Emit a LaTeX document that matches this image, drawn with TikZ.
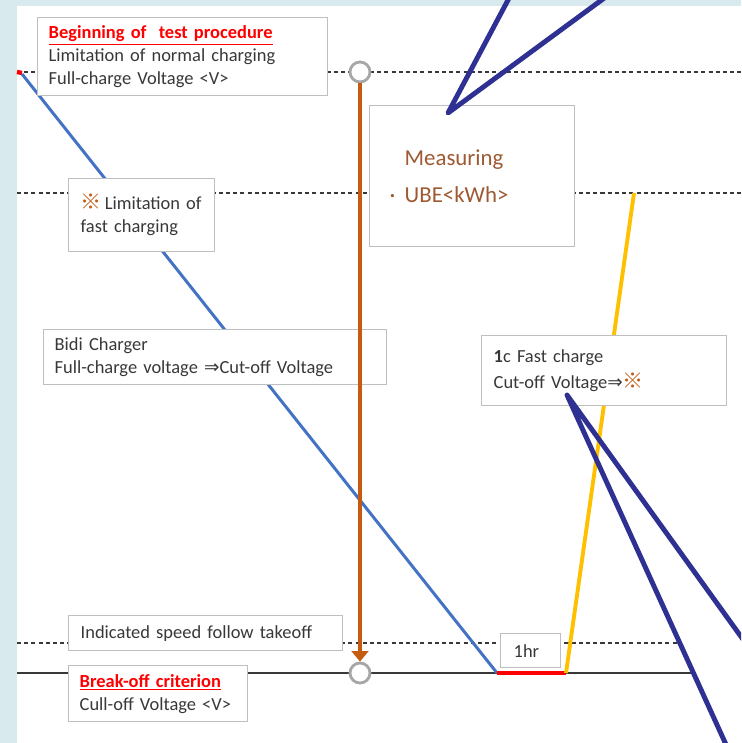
\documentclass[tikz,border=0pt]{standalone}
\usepackage{fontspec}
\setmainfont{Carlito}
\newfontfamily\symfont{DejaVu Sans}
\newfontfamily\cjkfont{Noto Sans CJK JP}
\usetikzlibrary{arrows.meta}

\definecolor{bandblue}{RGB}{216,234,238}
\definecolor{boxgray}{RGB}{191,191,191}
\definecolor{textgray}{RGB}{56,56,56}
\definecolor{lineblue}{RGB}{68,114,196}
\definecolor{lineorange}{RGB}{197,90,17}
\definecolor{lineyellow}{RGB}{255,192,0}
\definecolor{calloutnavy}{RGB}{46,49,146}
\definecolor{measbrown}{RGB}{158,90,50}
\definecolor{ringgray}{RGB}{166,166,166}

\newcommand{\refmark}{{\cjkfont\color{lineorange}\fontsize{12}{13}\selectfont ※}}
\newcommand{\thenarrow}{{\symfont ⇒}}

\begin{document}
\begin{tikzpicture}[x=0.02cm,y=-0.02cm]
        \tikzset{
            box/.style={draw=boxgray, line width=0.8pt, fill=white, anchor=north west,
                align=left, text=textgray, inner ysep=0pt,
                font=\fontsize{10.5}{13}\selectfont},
            level/.style={dash pattern=on 2.3pt off 1.8pt, line width=1.2pt, color=textgray},
            ring/.style={circle, draw=ringgray, line width=1.6pt, fill=white,
                minimum size=0.4cm, inner sep=0pt},
            callout/.style={calloutnavy, line width=2.8pt, line cap=round, line join=round}
        }
        \useasboundingbox (0,0) rectangle (741,743);
        \clip (0,0) rectangle (741,743);
        \fill[bandblue] (0,0) rectangle (741,743);
        \fill[white] (17,6) rectangle (741,743);

        % levels
        \coordinate (fullL) at (17,72);   \coordinate (fullR) at (741,72);
        \coordinate (fastL) at (17,193);  \coordinate (fastR) at (741,193);
        \coordinate (speedL) at (17,643); \coordinate (speedR) at (678,643);
        \coordinate (cutL) at (17,673);   \coordinate (cutR) at (693,673);
        \draw[level] (fullL) -- (fullR);
        \draw[level] (fastL) -- (fastR);
        \draw[level] (speedL) -- (speedR);
        \draw[textgray, line width=1.1pt] (cutL) -- (cutR);

        % charge curves
        \coordinate (redtick) at (22,73);
        \coordinate (bluetop) at (22,74);
        \coordinate (blueend) at (497,673);
        \coordinate (yellowend) at (566,673);
        \coordinate (yellowtop) at (634,193);
        \draw[red, line width=2.5pt] (fullL) -- (redtick);
        \draw[lineblue, line width=1.7pt] (bluetop) -- (blueend);
        \draw[red, line width=2.2pt] (blueend) -- (yellowend);
        \draw[lineyellow, line width=2.2pt] (yellowend) -- (yellowtop);

        \node[box, text width=5.36cm, inner xsep=0.22cm, minimum height=1.56cm] (start) at (37,17)
            {\textcolor{red}{\underline{\textbf{Beginning of\ \ test procedure}}}\\
             Limitation of normal charging\\Full-charge Voltage <V>};
        \node[box, text width=2.44cm, inner xsep=0.24cm, minimum height=1.46cm] (fastlimit) at (68,178)
            {\refmark\,Limitation of\\fast charging};
        \node[box, text width=3.3cm, inner xsep=0.4cm, minimum height=2.82cm,
              text=measbrown, font=\fontsize{13}{21.5}\selectfont] (measure) at (369,105)
            {\hspace*{0.3cm}Measuring\\\makebox[0.3cm][l]{\textperiodcentered}UBE<kWh>};
        \node[box, text width=6.42cm, inner xsep=0.22cm, minimum height=1.1cm] (bidi) at (43,329)
            {Bidi Charger\\Full-charge voltage \thenarrow Cut-off Voltage};
        \node[box, text width=4.42cm, inner xsep=0.24cm, minimum height=1.4cm] (fastcharge) at (481,335)
            {\textbf{1}c Fast charge\\[2pt]Cut-off Voltage\thenarrow\refmark\\[-1pt]};
        \node[box, text width=5cm, inner xsep=0.24cm, minimum height=0.7cm] (speed) at (68,615)
            {Indicated speed follow takeoff};
        \node[box, text width=3.14cm, inner xsep=0.22cm, minimum height=1.12cm] (breakoff) at (68,665)
            {\textcolor{red}{\underline{\textbf{Break-off criterion}}}\\Cull-off Voltage <V>};
        \node[box, text width=0.68cm, inner xsep=0.26cm, minimum height=0.68cm] (hour) at (500,633)
            {1hr};

        % measuring interval
        \node[ring] (ringtop) at (360,72) {};
        \node[ring] (ringbot) at (360,673) {};
        \draw[lineorange, line width=2.8pt, -{Triangle[width=9.5pt,length=6pt]}] (ringtop) -- (ringbot);

        % callouts
        \coordinate (measTip) at (448,113);
        \coordinate (measA) at (516,-15);
        \coordinate (measB) at (622,-15);
        \draw[callout] (measA) -- (measTip) -- (measB);
        \coordinate (fastTip) at (567,395);
        \coordinate (fastA) at (733,760);
        \coordinate (fastB) at (760,663);
        \draw[callout] (fastA) -- (fastTip) -- (fastB);
\end{tikzpicture}
\end{document}
